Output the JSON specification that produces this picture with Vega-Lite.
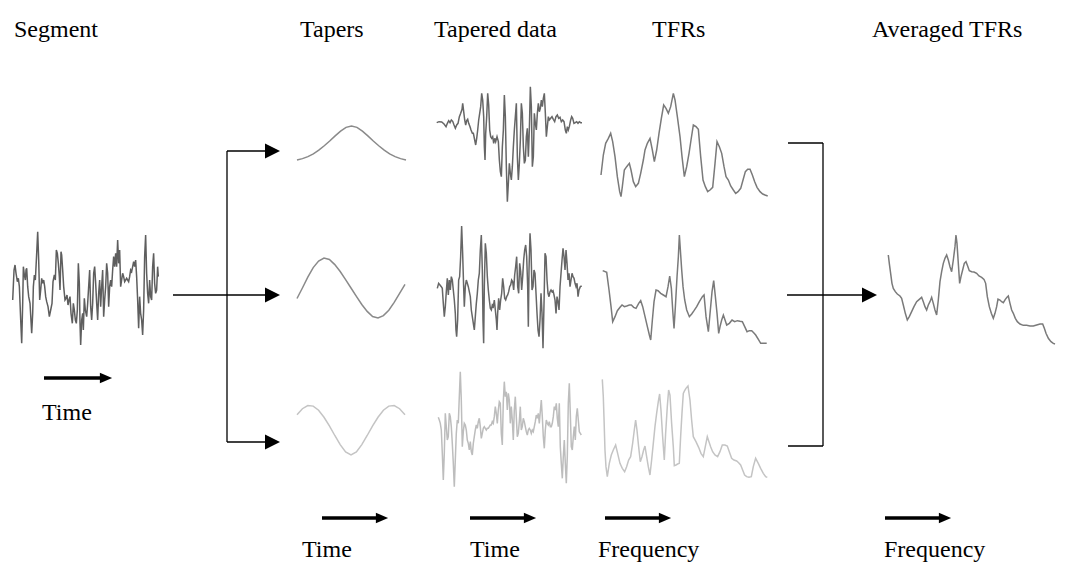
{
  "$schema": "https://vega.github.io/schema/vega-lite/v6.json",
  "width": 1079,
  "height": 584,
  "padding": 0,
  "autosize": "none",
  "background": "white",
  "config": {"view": {"stroke": null}},
  "datasets": {
    "segment": [
      {"t":0,"v":-0.4},{"t":4,"v":0.5},{"t":7,"v":0.65},{"t":10,"v":0.4},{"t":14,"v":0.15},{"t":17,"v":0.25},{"t":20,"v":0.0},{"t":24,"v":-1.0},{"t":27,"v":-1.7},{"t":30,"v":-0.5},
      {"t":32,"v":0.6},{"t":35,"v":0.35},{"t":38,"v":0.2},{"t":40,"v":0.5},{"t":42,"v":0.55},{"t":45,"v":0.0},{"t":48,"v":-0.3},{"t":52,"v":-0.5},{"t":57,"v":-1.4},{"t":60,"v":-0.8},
      {"t":62,"v":0.0},{"t":65,"v":0.35},{"t":68,"v":0.2},{"t":72,"v":1.0},{"t":75,"v":1.65},{"t":78,"v":0.8},{"t":81,"v":-0.4},{"t":84,"v":-0.1},{"t":87,"v":0.25},{"t":90,"v":0.1},
      {"t":93,"v":0.2},{"t":96,"v":0.0},{"t":99,"v":-0.3},{"t":102,"v":-0.45},{"t":106,"v":-0.6},{"t":110,"v":-0.9},{"t":114,"v":-0.7},{"t":118,"v":-0.5},{"t":121,"v":0.15},{"t":125,"v":0.35},
      {"t":128,"v":0.2},{"t":131,"v":1.1},{"t":134,"v":1.0},{"t":137,"v":0.7},{"t":140,"v":0.3},{"t":142,"v":-0.1},{"t":145,"v":1.05},{"t":147,"v":0.95},{"t":150,"v":0.5},{"t":153,"v":0.0},
      {"t":157,"v":-0.4},{"t":160,"v":-0.35},{"t":163,"v":-0.25},{"t":166,"v":-0.55},{"t":169,"v":-0.4},{"t":172,"v":-0.3},{"t":175,"v":-0.8},{"t":179,"v":-1.1},{"t":182,"v":-0.5},{"t":185,"v":-0.7},
      {"t":188,"v":-1.0},{"t":191,"v":-1.1},{"t":194,"v":-0.7},{"t":197,"v":0.7},{"t":200,"v":0.1},{"t":202,"v":-1.1},{"t":204,"v":-1.75},{"t":207,"v":-1.0},{"t":210,"v":-0.8},{"t":212,"v":-1.3},
      {"t":215,"v":-0.35},{"t":218,"v":-0.7},{"t":222,"v":-0.9},{"t":225,"v":-0.5},{"t":228,"v":0.0},{"t":231,"v":0.5},{"t":234,"v":-0.6},{"t":237,"v":-1.0},{"t":240,"v":-0.5},{"t":243,"v":0.4},
      {"t":246,"v":0.6},{"t":249,"v":0.1},{"t":252,"v":-0.5},{"t":255,"v":-1.0},{"t":258,"v":-0.2},{"t":261,"v":0.2},{"t":264,"v":-0.6},{"t":267,"v":0.0},{"t":270,"v":0.5},{"t":273,"v":-0.9},
      {"t":276,"v":-0.4},{"t":279,"v":0.0},{"t":282,"v":0.7},{"t":285,"v":0.4},{"t":288,"v":-0.6},{"t":291,"v":0.0},{"t":294,"v":0.2},{"t":297,"v":0.0},{"t":300,"v":0.5},{"t":303,"v":0.9},
      {"t":306,"v":0.6},{"t":309,"v":1.0},{"t":312,"v":0.6},{"t":315,"v":1.4},{"t":318,"v":0.7},{"t":321,"v":1.1},{"t":324,"v":0.0},{"t":327,"v":0.2},{"t":330,"v":0.4},{"t":333,"v":0.3},
      {"t":336,"v":0.15},{"t":339,"v":0.2},{"t":342,"v":0.25},{"t":345,"v":0.2},{"t":348,"v":0.15},{"t":351,"v":0.3},{"t":354,"v":0.5},{"t":357,"v":0.45},{"t":360,"v":0.6},{"t":363,"v":0.75},
      {"t":366,"v":0.6},{"t":369,"v":0.8},{"t":372,"v":0.3},{"t":375,"v":-0.4},{"t":378,"v":-1.25},{"t":381,"v":-0.3},{"t":384,"v":-0.8},{"t":387,"v":-1.0},{"t":390,"v":-1.45},{"t":393,"v":-0.7},
      {"t":396,"v":0.9},{"t":399,"v":1.55},{"t":402,"v":0.4},{"t":405,"v":-0.2},{"t":408,"v":-0.5},{"t":411,"v":0.2},{"t":414,"v":-0.3},{"t":417,"v":-0.4},{"t":420,"v":0.6},{"t":423,"v":1.0},
      {"t":426,"v":0.1},{"t":429,"v":-0.2},{"t":432,"v":-0.1},{"t":435,"v":0.6},{"t":437,"v":0.3}
    ],
    "taper1": [
      {"t":0,"v":0},{"t":0.05,"v":0.04},{"t":0.1,"v":0.1},{"t":0.15,"v":0.18},{"t":0.2,"v":0.29},{"t":0.25,"v":0.42},{"t":0.3,"v":0.56},{"t":0.35,"v":0.71},{"t":0.4,"v":0.85},{"t":0.45,"v":0.96},
      {"t":0.5,"v":1},{"t":0.55,"v":0.96},{"t":0.6,"v":0.85},{"t":0.65,"v":0.71},{"t":0.7,"v":0.56},{"t":0.75,"v":0.42},{"t":0.8,"v":0.29},{"t":0.85,"v":0.18},{"t":0.9,"v":0.1},{"t":0.95,"v":0.04},{"t":1,"v":0}
    ],
    "taper2": [
      {"t":0,"v":-0.35},{"t":0.05,"v":0.0},{"t":0.1,"v":0.36},{"t":0.15,"v":0.68},{"t":0.2,"v":0.9},{"t":0.25,"v":1.0},{"t":0.3,"v":0.95},{"t":0.35,"v":0.78},{"t":0.4,"v":0.55},{"t":0.45,"v":0.28},
      {"t":0.5,"v":0},{"t":0.55,"v":-0.28},{"t":0.6,"v":-0.55},{"t":0.65,"v":-0.78},{"t":0.7,"v":-0.95},{"t":0.75,"v":-1.0},{"t":0.8,"v":-0.92},{"t":0.85,"v":-0.74},{"t":0.9,"v":-0.48},{"t":0.95,"v":-0.18},{"t":1,"v":0.12}
    ],
    "taper3": [
      {"t":0,"v":0.55},{"t":0.05,"v":0.78},{"t":0.1,"v":0.9},{"t":0.15,"v":0.88},{"t":0.2,"v":0.72},{"t":0.25,"v":0.45},{"t":0.3,"v":0.12},{"t":0.35,"v":-0.25},{"t":0.4,"v":-0.6},{"t":0.45,"v":-0.88},
      {"t":0.5,"v":-1.0},{"t":0.55,"v":-0.88},{"t":0.6,"v":-0.6},{"t":0.65,"v":-0.25},{"t":0.7,"v":0.12},{"t":0.75,"v":0.45},{"t":0.8,"v":0.72},{"t":0.85,"v":0.88},{"t":0.9,"v":0.9},{"t":0.95,"v":0.78},{"t":1,"v":0.55}
    ],
    "tapered1": [
      {"t":0,"v":0.02},{"t":7,"v":0.05},{"t":15,"v":0.04},{"t":22,"v":-0.02},{"t":28,"v":-0.1},{"t":32,"v":0.0},{"t":36,"v":0.08},{"t":40,"v":0.02},{"t":44,"v":0.1},{"t":48,"v":0.06},
      {"t":52,"v":-0.05},{"t":56,"v":-0.15},{"t":60,"v":-0.05},{"t":64,"v":0.0},{"t":68,"v":0.2},{"t":72,"v":0.3},{"t":76,"v":0.42},{"t":78,"v":0.6},{"t":81,"v":0.35},{"t":84,"v":0.1},
      {"t":87,"v":-0.05},{"t":90,"v":0.08},{"t":93,"v":0.12},{"t":96,"v":0.0},{"t":100,"v":-0.1},{"t":103,"v":-0.2},{"t":107,"v":-0.3},{"t":110,"v":-0.3},{"t":114,"v":-0.5},{"t":117,"v":-0.65},
      {"t":120,"v":-0.45},{"t":123,"v":-0.2},{"t":126,"v":0.1},{"t":129,"v":0.3},{"t":132,"v":0.5},{"t":135,"v":0.9},{"t":138,"v":0.7},{"t":141,"v":0.2},{"t":143,"v":-0.7},{"t":145,"v":-1.1},
      {"t":147,"v":-0.3},{"t":150,"v":0.2},{"t":153,"v":0.9},{"t":156,"v":0.55},{"t":159,"v":-0.2},{"t":162,"v":-0.4},{"t":165,"v":-0.45},{"t":168,"v":-0.4},{"t":171,"v":-0.6},{"t":174,"v":-0.45},
      {"t":177,"v":-0.55},{"t":181,"v":-0.4},{"t":185,"v":-0.55},{"t":188,"v":-1.1},{"t":191,"v":-1.45},{"t":194,"v":-1.6},{"t":197,"v":-0.7},{"t":200,"v":-0.2},{"t":203,"v":0.85},{"t":206,"v":0.2},
      {"t":209,"v":-1.3},{"t":212,"v":-2.35},{"t":215,"v":-1.8},{"t":218,"v":-1.2},{"t":221,"v":-1.5},{"t":224,"v":-1.7},{"t":227,"v":-1.3},{"t":230,"v":-0.7},{"t":233,"v":-0.2},{"t":236,"v":0.2},
      {"t":239,"v":0.6},{"t":242,"v":-1.0},{"t":245,"v":-1.7},{"t":248,"v":-1.2},{"t":251,"v":-0.5},{"t":254,"v":0.6},{"t":257,"v":0.3},{"t":260,"v":-0.7},{"t":263,"v":-1.2},{"t":266,"v":-1.1},
      {"t":269,"v":-0.4},{"t":272,"v":-0.15},{"t":275,"v":-1.0},{"t":278,"v":-0.2},{"t":281,"v":1.1},{"t":284,"v":0.5},{"t":287,"v":-1.3},{"t":290,"v":-1.0},{"t":293,"v":0.3},{"t":296,"v":0.0},
      {"t":299,"v":-0.2},{"t":302,"v":0.3},{"t":305,"v":0.6},{"t":308,"v":0.35},{"t":311,"v":0.45},{"t":314,"v":0.7},{"t":317,"v":0.5},{"t":320,"v":0.75},{"t":323,"v":0.9},{"t":326,"v":0.3},
      {"t":329,"v":-0.4},{"t":332,"v":-0.1},{"t":335,"v":0.2},{"t":338,"v":0.1},{"t":342,"v":0.15},{"t":346,"v":0.2},{"t":350,"v":0.12},{"t":354,"v":0.05},{"t":358,"v":0.2},{"t":362,"v":0.25},
      {"t":366,"v":0.15},{"t":370,"v":0.18},{"t":374,"v":0.05},{"t":378,"v":0.1},{"t":382,"v":0.05},{"t":386,"v":-0.2},{"t":389,"v":-0.3},{"t":392,"v":-0.1},{"t":395,"v":-0.2},{"t":398,"v":-0.1},
      {"t":402,"v":0.1},{"t":405,"v":0.2},{"t":408,"v":0.15},{"t":412,"v":0.0},{"t":416,"v":0.02},{"t":420,"v":0.05},{"t":424,"v":0.0},{"t":428,"v":0.05},{"t":432,"v":0.02},{"t":436,"v":0.02}
    ],
    "tapered2": [
      {"t":0,"v":-0.05},{"t":4,"v":0.1},{"t":8,"v":0.05},{"t":12,"v":0.0},{"t":15,"v":-0.05},{"t":18,"v":-0.5},{"t":21,"v":-0.9},{"t":24,"v":-0.6},{"t":27,"v":-0.15},{"t":30,"v":0.25},
      {"t":33,"v":-0.25},{"t":36,"v":0.2},{"t":39,"v":-0.1},{"t":42,"v":0.3},{"t":45,"v":0.2},{"t":48,"v":-0.1},{"t":51,"v":-0.4},{"t":54,"v":-0.8},{"t":56,"v":-1.3},{"t":58,"v":-1.5},
      {"t":61,"v":-1.0},{"t":64,"v":0.2},{"t":67,"v":0.3},{"t":70,"v":0.9},{"t":73,"v":1.82},{"t":76,"v":1.0},{"t":79,"v":0.0},{"t":81,"v":-0.6},{"t":84,"v":0.0},{"t":87,"v":0.2},
      {"t":90,"v":0.1},{"t":93,"v":0.0},{"t":96,"v":-0.15},{"t":99,"v":-0.3},{"t":102,"v":-0.7},{"t":105,"v":-0.9},{"t":108,"v":-1.1},{"t":111,"v":-1.3},{"t":114,"v":-0.9},{"t":117,"v":-0.5},
      {"t":120,"v":-0.2},{"t":123,"v":0.2},{"t":126,"v":0.4},{"t":129,"v":1.1},{"t":132,"v":1.55},{"t":135,"v":0.5},{"t":137,"v":-1.0},{"t":139,"v":-1.7},{"t":141,"v":0.0},{"t":144,"v":1.3},
      {"t":147,"v":1.0},{"t":150,"v":0.3},{"t":153,"v":-0.1},{"t":156,"v":-0.4},{"t":159,"v":-0.65},{"t":162,"v":-0.7},{"t":165,"v":-0.55},{"t":168,"v":-0.6},{"t":171,"v":-0.4},{"t":174,"v":-0.7},
      {"t":177,"v":-1.0},{"t":179,"v":-1.3},{"t":181,"v":-0.8},{"t":184,"v":-0.35},{"t":187,"v":-0.7},{"t":190,"v":-0.4},{"t":193,"v":-0.2},{"t":196,"v":0.25},{"t":199,"v":0.0},{"t":202,"v":-0.35},
      {"t":205,"v":-0.4},{"t":208,"v":-0.3},{"t":211,"v":-0.25},{"t":214,"v":-0.15},{"t":217,"v":0.0},{"t":220,"v":0.05},{"t":223,"v":0.2},{"t":226,"v":0.15},{"t":229,"v":-0.1},{"t":232,"v":0.35},
      {"t":235,"v":0.6},{"t":238,"v":0.9},{"t":241,"v":0.0},{"t":244,"v":-0.2},{"t":247,"v":0.7},{"t":250,"v":0.45},{"t":253,"v":-0.1},{"t":256,"v":0.3},{"t":259,"v":0.8},{"t":262,"v":1.1},
      {"t":265,"v":1.25},{"t":268,"v":0.9},{"t":271,"v":0.0},{"t":273,"v":-1.2},{"t":275,"v":0.5},{"t":278,"v":1.6},{"t":281,"v":1.1},{"t":284,"v":-0.1},{"t":287,"v":0.0},{"t":290,"v":0.5},
      {"t":293,"v":0.4},{"t":296,"v":-0.2},{"t":299,"v":-0.8},{"t":302,"v":-1.3},{"t":305,"v":-1.5},{"t":308,"v":-1.0},{"t":311,"v":-0.2},{"t":314,"v":-0.8},{"t":317,"v":-1.85},{"t":320,"v":-0.5},
      {"t":323,"v":1.0},{"t":326,"v":0.9},{"t":329,"v":0.2},{"t":332,"v":-0.2},{"t":335,"v":-0.3},{"t":338,"v":-0.15},{"t":341,"v":-0.1},{"t":344,"v":-0.15},{"t":347,"v":-0.12},{"t":350,"v":-0.25},
      {"t":353,"v":-0.4},{"t":356,"v":-0.8},{"t":359,"v":-0.3},{"t":362,"v":-0.45},{"t":365,"v":-0.7},{"t":368,"v":0.0},{"t":371,"v":0.4},{"t":374,"v":0.8},{"t":377,"v":1.15},{"t":380,"v":0.9},
      {"t":383,"v":0.5},{"t":386,"v":1.1},{"t":389,"v":0.7},{"t":392,"v":0.2},{"t":395,"v":0.4},{"t":398,"v":0.0},{"t":401,"v":0.2},{"t":404,"v":0.4},{"t":407,"v":0.3},{"t":410,"v":0.25},
      {"t":413,"v":0.1},{"t":416,"v":0.0},{"t":419,"v":0.1},{"t":422,"v":-0.3},{"t":425,"v":-0.1},{"t":429,"v":0.0},{"t":433,"v":0.02}
    ],
    "tapered3": [
      {"t":0,"v":0.28},{"t":3,"v":0.2},{"t":6,"v":0.1},{"t":9,"v":-0.1},{"t":12,"v":-0.8},{"t":15,"v":-1.6},{"t":18,"v":-0.8},{"t":21,"v":0.4},{"t":24,"v":0.0},{"t":27,"v":-0.4},
      {"t":30,"v":-0.3},{"t":33,"v":0.4},{"t":36,"v":0.3},{"t":39,"v":0.0},{"t":42,"v":-0.5},{"t":45,"v":-1.1},{"t":48,"v":-1.8},{"t":51,"v":-1.0},{"t":54,"v":-0.2},{"t":57,"v":0.2},
      {"t":60,"v":0.1},{"t":63,"v":0.9},{"t":66,"v":1.65},{"t":69,"v":0.8},{"t":72,"v":-0.6},{"t":75,"v":-0.15},{"t":78,"v":0.1},{"t":81,"v":0.05},{"t":84,"v":-0.1},{"t":87,"v":-0.4},
      {"t":90,"v":-0.5},{"t":93,"v":-0.7},{"t":96,"v":-0.45},{"t":99,"v":-0.75},{"t":102,"v":-0.85},{"t":105,"v":-0.5},{"t":108,"v":-0.3},{"t":111,"v":-0.1},{"t":114,"v":0.05},{"t":117,"v":-0.05},
      {"t":120,"v":0.15},{"t":123,"v":0.25},{"t":126,"v":0.0},{"t":129,"v":-0.35},{"t":132,"v":-0.2},{"t":135,"v":-0.05},{"t":138,"v":0.0},{"t":141,"v":-0.05},{"t":144,"v":-0.1},{"t":147,"v":-0.05},
      {"t":150,"v":-0.05},{"t":153,"v":0.0},{"t":156,"v":0.05},{"t":159,"v":0.05},{"t":162,"v":0.15},{"t":165,"v":0.1},{"t":168,"v":0.3},{"t":171,"v":0.6},{"t":174,"v":0.4},{"t":177,"v":0.1},
      {"t":180,"v":0.5},{"t":183,"v":0.75},{"t":186,"v":0.7},{"t":189,"v":-0.2},{"t":192,"v":-0.55},{"t":195,"v":0.75},{"t":198,"v":1.35},{"t":201,"v":0.9},{"t":204,"v":1.05},{"t":207,"v":0.5},
      {"t":210,"v":1.0},{"t":213,"v":0.8},{"t":216,"v":0.1},{"t":219,"v":0.6},{"t":222,"v":0.2},{"t":225,"v":-0.4},{"t":228,"v":0.5},{"t":231,"v":0.9},{"t":234,"v":0.3},{"t":237,"v":-0.3},
      {"t":240,"v":-0.2},{"t":243,"v":0.15},{"t":246,"v":0.6},{"t":249,"v":-0.1},{"t":252,"v":0.0},{"t":255,"v":0.25},{"t":258,"v":0.15},{"t":261,"v":0.0},{"t":264,"v":-0.15},{"t":267,"v":-0.25},
      {"t":270,"v":-0.1},{"t":273,"v":-0.05},{"t":276,"v":-0.1},{"t":279,"v":-0.2},{"t":282,"v":-0.1},{"t":285,"v":-0.15},{"t":288,"v":0.0},{"t":291,"v":0.15},{"t":294,"v":0.35},{"t":297,"v":0.25},
      {"t":300,"v":0.4},{"t":303,"v":0.1},{"t":306,"v":0.45},{"t":309,"v":0.8},{"t":312,"v":0.3},{"t":315,"v":-0.3},{"t":318,"v":-0.65},{"t":321,"v":-0.1},{"t":324,"v":0.2},{"t":327,"v":0.1},
      {"t":330,"v":0.05},{"t":333,"v":0.15},{"t":336,"v":0.0},{"t":339,"v":0.0},{"t":342,"v":0.1},{"t":345,"v":0.3},{"t":348,"v":0.6},{"t":351,"v":0.5},{"t":354,"v":0.7},{"t":357,"v":0.25},
      {"t":360,"v":0.0},{"t":363,"v":0.7},{"t":366,"v":-0.6},{"t":369,"v":-1.1},{"t":372,"v":-1.55},{"t":375,"v":-0.9},{"t":378,"v":-0.4},{"t":381,"v":-1.1},{"t":384,"v":-1.7},{"t":387,"v":-0.9},
      {"t":390,"v":0.7},{"t":393,"v":1.3},{"t":396,"v":0.4},{"t":399,"v":-0.6},{"t":402,"v":-0.7},{"t":405,"v":-0.3},{"t":408,"v":0.0},{"t":411,"v":-0.4},{"t":414,"v":0.3},{"t":417,"v":0.55},
      {"t":420,"v":0.2},{"t":423,"v":-0.15},{"t":426,"v":-0.2},{"t":429,"v":-0.25}
    ],
    "tfr1": [
      {"f":0,"p":0.65},{"f":7,"p":1.25},{"f":14,"p":1.6},{"f":22,"p":1.75},{"f":29,"p":1.9},{"f":35,"p":1.65},{"f":42,"p":1.2},{"f":49,"p":0.6},{"f":56,"p":0.15},{"f":60,"p":0.0},
      {"f":64,"p":0.3},{"f":70,"p":0.8},{"f":77,"p":0.9},{"f":85,"p":1.0},{"f":90,"p":0.8},{"f":97,"p":0.45},{"f":104,"p":0.3},{"f":112,"p":0.4},{"f":119,"p":0.7},{"f":127,"p":1.1},
      {"f":132,"p":1.4},{"f":139,"p":1.6},{"f":147,"p":1.75},{"f":154,"p":1.4},{"f":160,"p":1.05},{"f":167,"p":1.4},{"f":174,"p":1.9},{"f":181,"p":2.35},{"f":188,"p":2.75},{"f":195,"p":2.65},
      {"f":202,"p":2.5},{"f":209,"p":2.7},{"f":217,"p":3.1},{"f":222,"p":2.9},{"f":229,"p":2.4},{"f":237,"p":1.8},{"f":243,"p":1.2},{"f":250,"p":0.6},{"f":257,"p":0.9},{"f":264,"p":1.3},
      {"f":270,"p":1.7},{"f":277,"p":2.15},{"f":285,"p":2.1},{"f":292,"p":2.02},{"f":299,"p":1.2},{"f":306,"p":0.5},{"f":313,"p":0.3},{"f":320,"p":0.15},{"f":327,"p":0.2},{"f":335,"p":0.28},
      {"f":342,"p":1.0},{"f":348,"p":1.65},{"f":355,"p":1.5},{"f":362,"p":1.3},{"f":369,"p":0.9},{"f":375,"p":0.6},{"f":382,"p":0.5},{"f":389,"p":0.32},{"f":397,"p":0.2},{"f":404,"p":0.1},
      {"f":411,"p":0.15},{"f":419,"p":0.25},{"f":426,"p":0.5},{"f":433,"p":0.75},{"f":440,"p":0.82},{"f":447,"p":0.82},{"f":454,"p":0.65},{"f":461,"p":0.45},{"f":468,"p":0.28},{"f":477,"p":0.15},
      {"f":485,"p":0.08},{"f":492,"p":0.05},{"f":500,"p":0.02}
    ],
    "tfr2": [
      {"f":0,"p":2.18},{"f":12,"p":2.13},{"f":19,"p":1.6},{"f":25,"p":1.1},{"f":30,"p":0.65},{"f":37,"p":0.8},{"f":44,"p":0.98},{"f":52,"p":1.08},{"f":58,"p":1.15},{"f":65,"p":1.1},
      {"f":72,"p":1.12},{"f":80,"p":1.15},{"f":86,"p":1.15},{"f":93,"p":1.08},{"f":100,"p":1.05},{"f":108,"p":1.2},{"f":114,"p":1.28},{"f":120,"p":1.1},{"f":127,"p":0.8},{"f":134,"p":0.5},
      {"f":140,"p":0.25},{"f":144,"p":0.1},{"f":149,"p":0.7},{"f":154,"p":1.25},{"f":160,"p":1.6},{"f":166,"p":1.58},{"f":174,"p":1.5},{"f":182,"p":1.45},{"f":190,"p":1.4},{"f":196,"p":1.7},
      {"f":201,"p":2.02},{"f":206,"p":1.65},{"f":210,"p":1.0},{"f":214,"p":0.45},{"f":218,"p":1.1},{"f":223,"p":2.0},{"f":227,"p":2.6},{"f":230,"p":3.25},{"f":233,"p":2.8},{"f":237,"p":2.2},
      {"f":241,"p":1.7},{"f":246,"p":1.3},{"f":252,"p":1.0},{"f":260,"p":0.8},{"f":267,"p":0.88},{"f":274,"p":0.98},{"f":282,"p":1.1},{"f":290,"p":1.25},{"f":299,"p":1.4},{"f":304,"p":1.45},
      {"f":310,"p":0.8},{"f":317,"p":0.35},{"f":322,"p":0.9},{"f":328,"p":1.55},{"f":333,"p":1.88},{"f":338,"p":1.4},{"f":343,"p":0.9},{"f":348,"p":0.3},{"f":352,"p":0.5},{"f":357,"p":0.7},
      {"f":362,"p":0.85},{"f":367,"p":0.7},{"f":372,"p":0.55},{"f":380,"p":0.6},{"f":388,"p":0.7},{"f":396,"p":0.65},{"f":404,"p":0.68},{"f":412,"p":0.66},{"f":419,"p":0.65},{"f":426,"p":0.5},
      {"f":433,"p":0.35},{"f":440,"p":0.38},{"f":447,"p":0.38},{"f":453,"p":0.32},{"f":459,"p":0.25},{"f":467,"p":0.12},{"f":474,"p":0.0},{"f":482,"p":0.0},{"f":492,"p":0.0}
    ],
    "tfr3": [
      {"f":0,"p":3.02},{"f":3,"p":2.5},{"f":5,"p":1.9},{"f":8,"p":0.9},{"f":11,"p":0.4},{"f":15,"p":0.1},{"f":21,"p":0.5},{"f":27,"p":0.75},{"f":33,"p":0.9},{"f":40,"p":1.05},
      {"f":46,"p":0.8},{"f":53,"p":0.5},{"f":60,"p":0.35},{"f":67,"p":0.25},{"f":73,"p":0.4},{"f":79,"p":0.6},{"f":85,"p":0.7},{"f":91,"p":1.1},{"f":96,"p":1.5},{"f":100,"p":1.8},
      {"f":104,"p":1.5},{"f":109,"p":1.0},{"f":114,"p":0.55},{"f":119,"p":0.7},{"f":124,"p":0.9},{"f":128,"p":1.02},{"f":133,"p":0.7},{"f":138,"p":0.4},{"f":143,"p":0.15},{"f":148,"p":0.6},
      {"f":153,"p":1.1},{"f":158,"p":1.6},{"f":163,"p":2.0},{"f":168,"p":2.35},{"f":172,"p":2.58},{"f":176,"p":2.1},{"f":181,"p":1.3},{"f":186,"p":0.6},{"f":190,"p":1.4},{"f":195,"p":2.2},
      {"f":199,"p":2.7},{"f":203,"p":2.55},{"f":208,"p":1.7},{"f":213,"p":1.0},{"f":216,"p":0.43},{"f":221,"p":0.45},{"f":226,"p":0.48},{"f":231,"p":0.5},{"f":235,"p":1.3},{"f":239,"p":2.0},
      {"f":243,"p":2.6},{"f":247,"p":2.68},{"f":251,"p":2.75},{"f":257,"p":2.82},{"f":263,"p":2.4},{"f":268,"p":1.8},{"f":273,"p":1.3},{"f":281,"p":1.15},{"f":289,"p":0.98},{"f":296,"p":0.8},
      {"f":303,"p":0.7},{"f":309,"p":1.0},{"f":315,"p":1.3},{"f":320,"p":1.15},{"f":325,"p":1.0},{"f":331,"p":0.85},{"f":338,"p":0.75},{"f":346,"p":0.7},{"f":353,"p":0.85},{"f":360,"p":1.05},
      {"f":368,"p":1.05},{"f":375,"p":1.02},{"f":381,"p":0.85},{"f":388,"p":0.65},{"f":395,"p":0.6},{"f":403,"p":0.57},{"f":409,"p":0.52},{"f":415,"p":0.45},{"f":421,"p":0.3},{"f":427,"p":0.15},
      {"f":433,"p":0.1},{"f":440,"p":0.08},{"f":447,"p":0.1},{"f":453,"p":0.4},{"f":460,"p":0.65},{"f":468,"p":0.5},{"f":475,"p":0.35},{"f":483,"p":0.2},{"f":490,"p":0.1},{"f":495,"p":0.08}
    ],
    "average": [
      {"f":0,"p":2.75},{"f":3,"p":2.5},{"f":7,"p":2.2},{"f":11,"p":1.9},{"f":15,"p":1.75},{"f":21,"p":1.65},{"f":27,"p":1.58},{"f":35,"p":1.52},{"f":40,"p":1.45},{"f":45,"p":1.25},
      {"f":51,"p":1.0},{"f":57,"p":0.8},{"f":63,"p":0.9},{"f":70,"p":1.05},{"f":77,"p":1.2},{"f":85,"p":1.35},{"f":93,"p":1.42},{"f":100,"p":1.48},{"f":105,"p":1.35},{"f":110,"p":1.2},
      {"f":115,"p":1.1},{"f":120,"p":1.25},{"f":125,"p":1.35},{"f":130,"p":1.48},{"f":135,"p":1.3},{"f":140,"p":1.1},{"f":145,"p":0.95},{"f":150,"p":1.4},{"f":155,"p":1.95},{"f":160,"p":2.25},
      {"f":165,"p":2.5},{"f":170,"p":2.65},{"f":175,"p":2.75},{"f":180,"p":2.6},{"f":185,"p":2.4},{"f":190,"p":2.25},{"f":195,"p":2.6},{"f":200,"p":3.0},{"f":203,"p":3.35},{"f":206,"p":3.1},
      {"f":210,"p":2.5},{"f":214,"p":1.9},{"f":218,"p":2.1},{"f":223,"p":2.3},{"f":228,"p":2.5},{"f":233,"p":2.55},{"f":238,"p":2.42},{"f":243,"p":2.28},{"f":250,"p":2.25},{"f":257,"p":2.24},
      {"f":265,"p":2.2},{"f":272,"p":2.12},{"f":280,"p":2.08},{"f":287,"p":2.02},{"f":292,"p":1.9},{"f":297,"p":1.5},{"f":303,"p":1.2},{"f":309,"p":1.0},{"f":315,"p":0.85},{"f":320,"p":1.0},
      {"f":325,"p":1.2},{"f":329,"p":1.43},{"f":335,"p":1.4},{"f":340,"p":1.35},{"f":345,"p":1.32},{"f":351,"p":1.42},{"f":356,"p":1.48},{"f":360,"p":1.52},{"f":365,"p":1.3},{"f":370,"p":1.1},
      {"f":375,"p":1.0},{"f":381,"p":0.85},{"f":387,"p":0.75},{"f":395,"p":0.68},{"f":405,"p":0.64},{"f":415,"p":0.64},{"f":425,"p":0.62},{"f":435,"p":0.62},{"f":445,"p":0.65},{"f":455,"p":0.68},
      {"f":463,"p":0.68},{"f":468,"p":0.55},{"f":473,"p":0.4},{"f":480,"p":0.25},{"f":488,"p":0.15},{"f":495,"p":0.1},{"f":500,"p":0.08}
    ],
    "connectors": [
      {"x":173,"y":295,"x2":265,"y2":295},
      {"x":227,"y":151,"x2":227,"y2":442},
      {"x":227,"y":151,"x2":265,"y2":151},
      {"x":227,"y":442,"x2":265,"y2":442},
      {"x":788,"y":143,"x2":823,"y2":143},
      {"x":823,"y":143,"x2":823,"y2":446},
      {"x":788,"y":446,"x2":823,"y2":446},
      {"x":787,"y":295,"x2":862,"y2":295}
    ],
    "heads": [
      {"x":272.5,"y":151},{"x":272.5,"y":295},{"x":272.5,"y":442},{"x":869.5,"y":295}
    ],
    "axisArrows": [
      {"x":44,"y":378,"x2":100},
      {"x":322,"y":518,"x2":376},
      {"x":470,"y":518,"x2":524},
      {"x":605,"y":518,"x2":659},
      {"x":885,"y":518,"x2":939}
    ],
    "axisHeads": [
      {"x":106,"y":378},{"x":382,"y":518},{"x":530,"y":518},{"x":665,"y":518},{"x":945,"y":518}
    ],
    "labels": [
      {"x":14,"y":37,"text":"Segment"},
      {"x":300,"y":37,"text":"Tapers"},
      {"x":434,"y":37,"text":"Tapered data"},
      {"x":652,"y":37,"text":"TFRs"},
      {"x":872,"y":37,"text":"Averaged TFRs"},
      {"x":42,"y":420,"text":"Time"},
      {"x":302,"y":557,"text":"Time"},
      {"x":470,"y":557,"text":"Time"},
      {"x":598,"y":557,"text":"Frequency"},
      {"x":884,"y":557,"text":"Frequency"}
    ]
  },
  "resolve": {"scale": {"x": "independent", "y": "independent"}},
  "layer": [
    {
      "data": {"name": "segment"},
      "mark": {"type": "line", "color": "#5e5e5e", "strokeWidth": 1.5},
      "encoding": {
        "x": {"field": "t", "type": "quantitative", "axis": null, "scale": {"domain": [0, 437], "range": [12.7, 158.3], "nice": false, "zero": false}},
        "y": {"field": "v", "type": "quantitative", "axis": null, "scale": {"domain": [-2.2, 2.0], "range": [360, 220], "nice": false, "zero": false}}
      }
    },
    {
      "data": {"name": "taper1"},
      "mark": {"type": "line", "color": "#8a8a8a", "strokeWidth": 1.5},
      "encoding": {
        "x": {"field": "t", "type": "quantitative", "axis": null, "scale": {"domain": [0, 1], "range": [297, 406], "nice": false, "zero": false}},
        "y": {"field": "v", "type": "quantitative", "axis": null, "scale": {"domain": [0, 1], "range": [160, 126], "nice": false, "zero": false}}
      }
    },
    {
      "data": {"name": "taper2"},
      "mark": {"type": "line", "color": "#8a8a8a", "strokeWidth": 1.5},
      "encoding": {
        "x": {"field": "t", "type": "quantitative", "axis": null, "scale": {"domain": [0, 1], "range": [297, 405], "nice": false, "zero": false}},
        "y": {"field": "v", "type": "quantitative", "axis": null, "scale": {"domain": [-1, 1], "range": [318, 258], "nice": false, "zero": false}}
      }
    },
    {
      "data": {"name": "taper3"},
      "mark": {"type": "line", "color": "#c4c4c4", "strokeWidth": 1.5},
      "encoding": {
        "x": {"field": "t", "type": "quantitative", "axis": null, "scale": {"domain": [0, 1], "range": [297, 405], "nice": false, "zero": false}},
        "y": {"field": "v", "type": "quantitative", "axis": null, "scale": {"domain": [-1, 1], "range": [455, 403], "nice": false, "zero": false}}
      }
    },
    {
      "data": {"name": "tapered1"},
      "mark": {"type": "line", "color": "#666666", "strokeWidth": 1.5},
      "encoding": {
        "x": {"field": "t", "type": "quantitative", "axis": null, "scale": {"domain": [0, 436], "range": [436.7, 582], "nice": false, "zero": false}},
        "y": {"field": "v", "type": "quantitative", "axis": null, "scale": {"domain": [-2.6, 1.3], "range": [210, 80], "nice": false, "zero": false}}
      }
    },
    {
      "data": {"name": "tapered2"},
      "mark": {"type": "line", "color": "#666666", "strokeWidth": 1.5},
      "encoding": {
        "x": {"field": "t", "type": "quantitative", "axis": null, "scale": {"domain": [0, 433], "range": [437.3, 581.7], "nice": false, "zero": false}},
        "y": {"field": "v", "type": "quantitative", "axis": null, "scale": {"domain": [-1.9, 2.0], "range": [350, 220], "nice": false, "zero": false}}
      }
    },
    {
      "data": {"name": "tapered3"},
      "mark": {"type": "line", "color": "#bdbdbd", "strokeWidth": 1.5},
      "encoding": {
        "x": {"field": "t", "type": "quantitative", "axis": null, "scale": {"domain": [0, 429], "range": [438.3, 581.3], "nice": false, "zero": false}},
        "y": {"field": "v", "type": "quantitative", "axis": null, "scale": {"domain": [-2.2, 2.0], "range": [500, 360], "nice": false, "zero": false}}
      }
    },
    {
      "data": {"name": "tfr1"},
      "mark": {"type": "line", "color": "#7a7a7a", "strokeWidth": 1.5},
      "encoding": {
        "x": {"field": "f", "type": "quantitative", "axis": null, "scale": {"domain": [0, 500], "range": [601, 767.7], "nice": false, "zero": false}},
        "y": {"field": "p", "type": "quantitative", "axis": null, "scale": {"domain": [-0.4, 3.5], "range": [210, 80], "nice": false, "zero": false}}
      }
    },
    {
      "data": {"name": "tfr2"},
      "mark": {"type": "line", "color": "#7a7a7a", "strokeWidth": 1.5},
      "encoding": {
        "x": {"field": "f", "type": "quantitative", "axis": null, "scale": {"domain": [0, 492], "range": [602.7, 766.7], "nice": false, "zero": false}},
        "y": {"field": "p", "type": "quantitative", "axis": null, "scale": {"domain": [-0.2, 3.7], "range": [350, 220], "nice": false, "zero": false}}
      }
    },
    {
      "data": {"name": "tfr3"},
      "mark": {"type": "line", "color": "#c4c4c4", "strokeWidth": 1.5},
      "encoding": {
        "x": {"field": "f", "type": "quantitative", "axis": null, "scale": {"domain": [0, 495], "range": [602.3, 767.3], "nice": false, "zero": false}},
        "y": {"field": "p", "type": "quantitative", "axis": null, "scale": {"domain": [-0.3, 3.6], "range": [490, 360], "nice": false, "zero": false}}
      }
    },
    {
      "data": {"name": "average"},
      "mark": {"type": "line", "color": "#7a7a7a", "strokeWidth": 1.5},
      "encoding": {
        "x": {"field": "f", "type": "quantitative", "axis": null, "scale": {"domain": [0, 500], "range": [888.3, 1055], "nice": false, "zero": false}},
        "y": {"field": "p", "type": "quantitative", "axis": null, "scale": {"domain": [-0.1, 3.8], "range": [350, 220], "nice": false, "zero": false}}
      }
    },
    {
      "data": {"name": "connectors"},
      "mark": {"type": "rule", "color": "#000000", "strokeWidth": 1.3},
      "encoding": {
        "x": {"field": "x", "type": "quantitative", "axis": null, "scale": {"domain": [0, 1079], "range": [0, 1079], "nice": false, "zero": false}},
        "x2": {"field": "x2"},
        "y": {"field": "y", "type": "quantitative", "axis": null, "scale": {"domain": [0, 584], "range": [0, 584], "nice": false, "zero": false}},
        "y2": {"field": "y2"}
      }
    },
    {
      "data": {"name": "heads"},
      "mark": {"type": "point", "shape": "M-1,-1L1,0L-1,1Z", "size": 225, "filled": true, "color": "#000000", "opacity": 1, "strokeWidth": 0},
      "encoding": {
        "x": {"field": "x", "type": "quantitative", "axis": null, "scale": {"domain": [0, 1079], "range": [0, 1079], "nice": false, "zero": false}},
        "y": {"field": "y", "type": "quantitative", "axis": null, "scale": {"domain": [0, 584], "range": [0, 584], "nice": false, "zero": false}}
      }
    },
    {
      "data": {"name": "axisArrows"},
      "mark": {"type": "rule", "color": "#000000", "strokeWidth": 3.5},
      "encoding": {
        "x": {"field": "x", "type": "quantitative", "axis": null, "scale": {"domain": [0, 1079], "range": [0, 1079], "nice": false, "zero": false}},
        "x2": {"field": "x2"},
        "y": {"field": "y", "type": "quantitative", "axis": null, "scale": {"domain": [0, 584], "range": [0, 584], "nice": false, "zero": false}}
      }
    },
    {
      "data": {"name": "axisHeads"},
      "mark": {"type": "point", "shape": "M-1,-0.85L1,0L-1,0.85Z", "size": 150, "filled": true, "color": "#000000", "opacity": 1, "strokeWidth": 0},
      "encoding": {
        "x": {"field": "x", "type": "quantitative", "axis": null, "scale": {"domain": [0, 1079], "range": [0, 1079], "nice": false, "zero": false}},
        "y": {"field": "y", "type": "quantitative", "axis": null, "scale": {"domain": [0, 584], "range": [0, 584], "nice": false, "zero": false}}
      }
    },
    {
      "data": {"name": "labels"},
      "mark": {"type": "text", "font": "Liberation Serif", "fontSize": 24, "color": "#000000", "align": "left", "baseline": "alphabetic"},
      "encoding": {
        "x": {"field": "x", "type": "quantitative", "axis": null, "scale": {"domain": [0, 1079], "range": [0, 1079], "nice": false, "zero": false}},
        "y": {"field": "y", "type": "quantitative", "axis": null, "scale": {"domain": [0, 584], "range": [0, 584], "nice": false, "zero": false}},
        "text": {"field": "text"}
      }
    }
  ]
}
